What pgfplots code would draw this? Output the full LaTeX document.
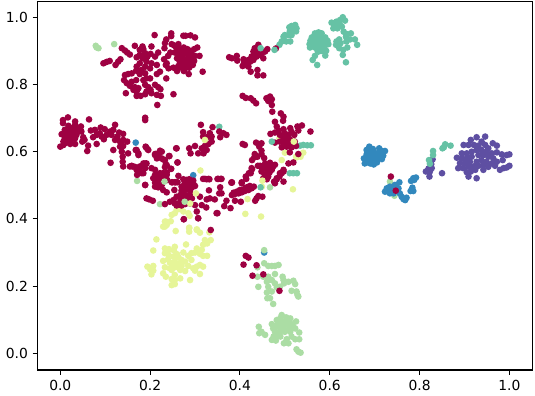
\documentclass[border=0pt]{standalone}
\usepackage{pgfplots}
\usepackage{fontspec}
\setmainfont{DejaVu Sans}
\pgfplotsset{compat=1.18}
\definecolor{cred}{HTML}{9E0142}
\definecolor{cyel}{HTML}{E6F598}
\definecolor{cgrn}{HTML}{ABDDA4}
\definecolor{cteal}{HTML}{66C2A5}
\definecolor{cblue}{HTML}{3288BD}
\definecolor{cpur}{HTML}{5E4FA2}
\pgfplotsset{dot/.style={only marks,color=#1,mark=*,mark size=2.5pt,mark options={solid,fill=#1,draw opacity=0}}}
\begin{document}
\begin{tikzpicture}
\path[use as bounding box] (-28.1pt,-18.75pt) rectangle (373.1pt,277.5pt);
\begin{axis}[scale only axis,width=371.25pt,height=276.4pt,at={(0pt,0pt)},anchor=south west,
 xmin=-0.0508,xmax=1.0515,ymin=-0.0497,ymax=1.047,
 xtick={0,0.2,0.4,0.6,0.8,1},ytick={0,0.2,0.4,0.6,0.8,1},
 tick align=outside,xtick pos=lower,ytick pos=left,
 major tick length=3.65pt,
 every tick/.style={black,line width=0.83pt},
 axis line style={line width=0.83pt},
 tick label style={font=\fontsize{10.4}{12}\selectfont},
 xticklabel style={yshift=-0.5pt},
 /pgf/number format/assume math mode=true,
 /pgf/number format/.cd,fixed,fixed zerofill,precision=1,/tikz/.cd,
 clip=false]
% yellow
\addplot[dot=cyel] coordinates {(.233,.392)(.246,.393)(.237,.382)(.229,.377)(.257,.364)(.287,.372)(.287,.362)(.304,.367)(.311,.359)(.332,.36)(.214,.339)(.207,.306)(.233,.312)(.255,.317)(.253,.306)(.28,.324)(.322,.337)(.335,.337)(.318,.323)(.327,.327)(.304,.312)(.315,.308)(.233,.298)(.241,.293)(.252,.288)(.274,.3)(.292,.298)(.3,.3)(.311,.296)(.318,.29)(.327,.29)(.263,.286)(.27,.278)(.229,.275)(.244,.27)(.255,.273)(.265,.268)(.278,.273)(.292,.278)(.318,.258)(.311,.263)(.304,.258)(.296,.253)(.233,.256)(.244,.253)(.255,.256)(.267,.248)(.278,.245)(.3,.246)(.311,.236)(.207,.26)(.194,.258)(.2,.25)(.207,.246)(.203,.235)(.229,.238)(.235,.228)(.248,.248)(.255,.233)(.267,.223)(.248,.221)(.255,.218)(.289,.218)(.248,.203)(.255,.206)(.267,.429)(.259,.427)(.248,.412)(.255,.417)(.274,.422)(.285,.417)(.288,.409)(.235,.392)(.233,.377)(.287,.374)(.304,.369)(.412,.415)(.447,.407)(.518,.488)(.312,.544)(.5,.597)(.541,.597)(.535,.585)(.493,.575)(.525,.585)(.417,.459)(.488,.64)(.526,.583)(.533,.589)(.449,.496)(.24,.28)(.25,.265)(.26,.26)(.27,.26)(.285,.26)(.26,.295)(.242,.31)(.285,.29)};
% light green
\addplot[dot=cgrn] coordinates {(.079,.915)(.081,.91)(.085,.908)(.12,.92)(.171,.513)(.222,.444)(.467,.494)(.734,.511)(.744,.469)(.454,.268)(.463,.26)(.471,.26)(.478,.26)(.486,.263)(.439,.256)(.478,.236)(.439,.228)(.452,.228)(.463,.228)(.471,.218)(.46,.213)(.478,.208)(.495,.228)(.497,.218)(.498,.208)(.508,.213)(.519,.216)(.523,.206)(.463,.198)(.471,.184)(.441,.198)(.46,.181)(.461,.164)(.467,.164)(.474,.147)(.515,.186)(.526,.184)(.528,.174)(.53,.169)(.482,.196)(.489,.198)(.493,.114)(.482,.099)(.471,.087)(.497,.094)(.504,.099)(.512,.104)(.525,.095)(.474,.074)(.482,.079)(.497,.079)(.508,.084)(.519,.079)(.489,.064)(.5,.064)(.512,.064)(.523,.074)(.532,.062)(.442,.079)(.443,.06)(.448,.064)(.456,.055)(.471,.04)(.48,.038)(.498,.03)(.508,.03)(.504,.042)(.523,.042)(.532,.042)(.482,.055)(.515,.05)(.526,.012)(.53,.005)(.535,.002)(.493,.089)(.512,.089)(.478,.064)(.49,.075)(.5,.07)(.505,.09)(.485,.09)(.49,.105)(.503,.107)(.475,.05)(.49,.05)(.51,.07)(.515,.085)};
% blue
\addplot[dot=cblue] coordinates {(.688,.615)(.696,.608)(.682,.605)(.69,.6)(.697,.598)(.71,.61)(.716,.602)(.723,.602)(.705,.595)(.712,.592)(.719,.588)(.682,.592)(.69,.588)(.698,.585)(.676,.58)(.684,.578)(.691,.575)(.701,.578)(.708,.58)(.716,.578)(.682,.568)(.69,.565)(.698,.562)(.678,.565)(.705,.568)(.786,.521)(.792,.523)(.781,.513)(.788,.516)(.784,.493)(.78,.483)(.786,.483)(.755,.509)(.745,.501)(.734,.496)(.727,.491)(.723,.481)(.731,.481)(.738,.486)(.745,.486)(.742,.476)(.734,.476)(.753,.491)(.756,.476)(.76,.466)(.768,.456)(.764,.459)(.771,.463)(.454,.3)(.168,.627)(.296,.53)};
\addplot[dot=cgrn] coordinates {(.454,.307)};
% purple
\addplot[dot=cpur] coordinates {(.829,.577)(.826,.563)(.82,.55)(.814,.541)(.823,.541)(.827,.551)(.822,.526)(.85,.536)(.927,.643)(.946,.645)(.938,.63)(.914,.635)(.898,.62)(.909,.62)(.921,.62)(.963,.625)(.972,.618)(.931,.618)(.946,.62)(.953,.61)(.894,.595)(.905,.595)(.916,.6)(.927,.605)(.938,.605)(.949,.6)(.961,.595)(.972,.598)(.883,.582)(.894,.58)(.905,.58)(.916,.585)(.931,.59)(.942,.59)(.953,.585)(.964,.58)(.983,.592)(.994,.59)(1.0,.592)(.89,.566)(.901,.566)(.912,.57)(.927,.57)(.938,.575)(.949,.57)(.961,.565)(.972,.57)(.985,.575)(.886,.551)(.897,.551)(.909,.556)(.92,.556)(.931,.558)(.942,.56)(.953,.555)(.968,.558)(.924,.546)(.914,.541)(.905,.539)(.909,.526)(.927,.521)(.942,.546)(.979,.546)(.987,.551)(.994,.553)(1.0,.558)};
% teal
\addplot[dot=cteal] coordinates {(.523,.977)(.515,.974)(.51,.97)(.526,.967)(.519,.963)(.511,.958)(.525,.958)(.508,.947)(.5,.947)(.515,.947)(.497,.942)(.512,.928)(.503,.928)(.493,.928)(.488,.918)(.575,.955)(.567,.952)(.582,.952)(.56,.94)(.57,.94)(.58,.94)(.59,.94)(.557,.93)(.565,.93)(.575,.93)(.585,.93)(.595,.93)(.555,.92)(.563,.92)(.57,.92)(.58,.92)(.59,.92)(.597,.92)(.556,.91)(.567,.91)(.578,.91)(.588,.91)(.573,.9)(.582,.9)(.592,.9)(.582,.902)(.575,.898)(.567,.885)(.562,.873)(.572,.858)(.59,.886)(.629,1.0)(.623,.992)(.634,.99)(.604,.984)(.615,.987)(.612,.977)(.622,.98)(.608,.967)(.617,.967)(.627,.972)(.631,.957)(.638,.95)(.647,.952)(.656,.934)(.661,.918)(.636,.942)(.645,.934)(.621,.934)(.615,.928)(.624,.923)(.614,.918)(.621,.908)(.637,.928)(.639,.91)(.629,.888)(.636,.866)(.63,.903)(.534,.618)(.541,.62)(.55,.619)(.558,.619)(.511,.536)(.519,.536)(.527,.536)(.83,.602)(.83,.59)(.821,.575)(.823,.564)(.851,.61)(.857,.622)(.869,.618)(.854,.613)(.354,.674)};
% red
\addplot[dot=cred] coordinates {(.21,.947)(.247,.952)(.247,.944)(.274,.945)(.279,.945)(.29,.946)(.30,.94)(.236,.934)(.233,.923)(.248,.92)(.254,.916)(.166,.915)(.183,.913)(.203,.913)(.232,.908)(.263,.92)(.137,.908)(.144,.901)(.149,.895)(.155,.889)(.096,.863)(.103,.867)(.11,.87)(.123,.858)(.129,.868)(.134,.875)
(.177,.903)(.185,.905)(.189,.893)(.177,.888)(.170,.881)(.183,.878)(.194,.883)(.201,.891)(.211,.883)(.218,.895)(.192,.868)(.203,.863)(.215,.858)(.177,.863)(.17,.853)(.189,.853)(.2,.848)(.181,.843)(.169,.841)(.159,.833)(.151,.831)(.144,.828)(.177,.831)(.189,.833)(.215,.831)(.222,.838)(.237,.863)(.231,.875)(.235,.858)(.241,.848)(.236,.818)(.2,.818)(.192,.818)(.185,.813)(.169,.813)(.159,.808)(.148,.804)(.142,.813)(.155,.796)(.166,.792)(.174,.789)(.163,.784)(.17,.779)(.146,.774)(.189,.799)(.196,.792)(.211,.799)(.218,.792)(.223,.786)(.201,.784)(.192,.779)(.189,.771)(.203,.774)(.215,.769)(.224,.766)(.17,.766)(.179,.766)(.252,.771)(.216,.739)
(.258,.91)(.266,.905)(.275,.91)(.283,.905)(.29,.9)(.298,.905)(.305,.91)(.255,.895)(.262,.89)(.27,.897)(.278,.892)(.285,.888)(.293,.89)(.3,.885)(.31,.885)(.26,.878)(.268,.882)(.276,.875)(.283,.875)(.29,.875)(.298,.87)(.266,.868)(.274,.862)(.282,.865)(.29,.86)(.27,.85)(.28,.85)(.263,.855)(.26,.84)(.275,.84)(.287,.85)(.295,.858)(.252,.85)(.245,.895)(.24,.885)(.268,.898)(.28,.9)(.272,.885)(.317,.838)(.286,.831)
(.376,.881)(.382,.878)(.393,.885)(.394,.871)(.408,.875)(.406,.855)(.413,.858)(.419,.853)(.424,.838)(.439,.843)(.439,.827)(.452,.827)(.411,.868)(.419,.873)(.426,.883)(.433,.893)(.441,.918)(.433,.908)(.441,.903)(.43,.898)(.445,.888)(.452,.878)(.449,.893)(.461,.905)(.456,.898)(.48,.907)(.423,.868)(.43,.873)(.437,.883)(.417,.863)(.409,.863)
(.406,.766)(.413,.76)(.424,.759)(.43,.752)(.436,.744)(.459,.759)(.467,.764)(.471,.756)(.463,.751)(.471,.739)(.472,.719)(.491,.714)(.497,.704)(.496,.692)(.478,.689)
(.482,.675)(.486,.663)(.497,.667)(.512,.67)(.528,.675)(.538,.678)(.468,.653)(.478,.657)(.489,.65)(.5,.655)(.515,.659)(.53,.663)(.557,.66)(.508,.65)(.497,.64)(.504,.64)(.511,.637)(.521,.65)(.489,.63)(.497,.625)(.504,.627)(.513,.625)(.522,.63)(.478,.627)(.493,.613)(.504,.615)(.515,.613)(.525,.617)(.511,.598)(.53,.593)(.508,.565)(.519,.568)
(.406,.623)(.411,.62)(.436,.627)(.448,.625)(.443,.615)(.448,.603)(.433,.593)(.439,.585)(.448,.593)(.454,.581)(.432,.583)(.427,.575)(.445,.558)(.456,.565)(.467,.567)(.474,.556)(.478,.561)(.463,.556)(.452,.551)(.46,.546)(.471,.546)(.466,.538)(.456,.531)(.463,.526)(.452,.521)(.46,.518)(.448,.541)(.44,.558)(.427,.548)(.42,.536)(.413,.526)(.404,.509)(.382,.509)(.359,.519)(.497,.546)(.493,.536)(.488,.526)(.482,.518)(.478,.506)(.497,.511)
(.382,.471)(.389,.474)(.397,.476)(.404,.479)(.411,.483)(.419,.486)(.426,.491)(.431,.496)(.393,.481)(.4,.486)(.408,.488)(.415,.494)(.422,.498)(.386,.478)(.381,.508)(.404,.506)(.414,.519)(.424,.536)(.426,.551)(.441,.468)(.45,.466)(.434,.454)(.437,.461)(.389,.454)(.402,.451)(.37,.454)(.365,.438)(.379,.432)(.356,.494)(.359,.476)(.354,.476)(.35,.417)(.476,.511)(.482,.521)(.489,.536)(.497,.541)
(.263,.528)(.274,.518)(.287,.518)(.296,.514)(.248,.509)(.255,.509)(.261,.509)(.277,.506)(.289,.506)(.318,.519)(.326,.518)(.332,.518)(.35,.519)(.357,.519)(.27,.496)(.281,.494)(.293,.494)(.3,.498)(.254,.486)(.27,.484)(.278,.486)(.289,.484)(.331,.485)(.218,.494)(.229,.486)(.237,.479)(.211,.496)(.215,.506)(.189,.501)(.267,.471)(.278,.471)(.289,.474)(.311,.466)(.259,.466)(.252,.456)(.27,.461)(.281,.461)(.293,.461)(.333,.461)(.326,.458)(.344,.458)(.244,.451)(.255,.446)(.267,.451)(.278,.444)(.289,.446)(.3,.441)(.315,.441)(.325,.434)(.259,.44)(.27,.44)(.233,.444)(.304,.422)(.307,.402)(.275,.399)(.192,.461)(.198,.458)(.206,.454)
(.191,.613)(.196,.605)(.17,.605)(.174,.595)(.211,.593)(.218,.59)(.226,.6)(.215,.58)(.226,.58)(.233,.575)(.237,.56)(.243,.587)(.259,.61)(.261,.568)(.246,.549)(.229,.536)(.237,.538)(.222,.536)(.203,.551)(.211,.546)(.215,.531)(.207,.521)(.211,.508)(.229,.521)(.238,.516)(.185,.565)(.192,.565)(.181,.555)(.189,.551)(.177,.541)(.185,.536)(.171,.546)(.166,.555)(.159,.558)(.171,.531)
(.006,.694)(.017,.702)(.006,.685)(.033,.69)(.033,.68)(.018,.677)(.025,.67)(.036,.67)(.046,.675)(.01,.665)(.018,.66)(.029,.66)(.04,.66)(.047,.66)(.003,.652)(.014,.65)(.022,.65)(.029,.65)(.036,.65)(.01,.64)(.018,.64)(.025,.637)(.033,.64)(.007,.63)(.014,.627)(.022,.623)(.033,.623)(0,.615)(.007,.62)(.051,.643)(.054,.635)(.049,.63)(.064,.696)
(.068,.663)(.077,.665)(.09,.672)(.073,.643)(.081,.65)(.088,.655)(.099,.667)(.111,.66)(.122,.68)(.118,.665)(.131,.657)(.14,.653)(.092,.645)(.103,.65)(.114,.65)(.127,.645)(.081,.623)(.097,.637)(.062,.618)(.06,.602)(.122,.635)(.133,.63)(.14,.635)(.149,.63)(.118,.605)(.133,.615)(.14,.617)(.137,.6)(.139,.585)(.151,.595)(.168,.605)(.174,.59)(.139,.57)(.14,.556)(.155,.556)(.161,.556)(.112,.567)(.19,.615)(.194,.608)(.189,.701)(.189,.694)
(.211,.59)(.222,.603)(.229,.577)(.242,.587)(.258,.61)(.261,.568)(.235,.563)(.233,.554)(.247,.549)
(.313,.68)(.339,.673)(.318,.658)(.333,.655)(.354,.66)(.37,.65)(.363,.655)(.356,.643)(.318,.645)(.326,.643)(.337,.645)(.337,.63)(.33,.623)(.322,.617)(.315,.61)(.326,.605)(.319,.595)(.3,.617)(.287,.61)(.29,.595)(.307,.595)
(.177,.556)(.189,.565)(.17,.546)(.181,.536)(.189,.501)(.213,.593)(.211,.531)(.226,.531)(.218,.516)(.237,.531)(.25,.509)(.257,.509)(.215,.501)(.226,.501)(.281,.516)(.289,.511)(.296,.506)(.278,.501)(.322,.519)(.33,.519)(.352,.519)(.382,.508)
(.335,.367)(.307,.402)(.275,.399)(.348,.417)(.413,.29)(.419,.285)(.408,.264)(.437,.262)(.428,.231)(.452,.235)(.488,.186)(.736,.526)(.747,.484)};
% top layer
\addplot[dot=cteal] coordinates {(.446,.908)(.477,.903)(.446,.494)(.471,.63)};
\addplot[dot=cyel] coordinates {(.322,.635)(.52,.63)(.45,.514)(.302,.476)(.289,.446)};
\addplot[dot=cgrn] coordinates {(.232,.511)(.277,.451)};
\end{axis}
\end{tikzpicture}
\end{document}
